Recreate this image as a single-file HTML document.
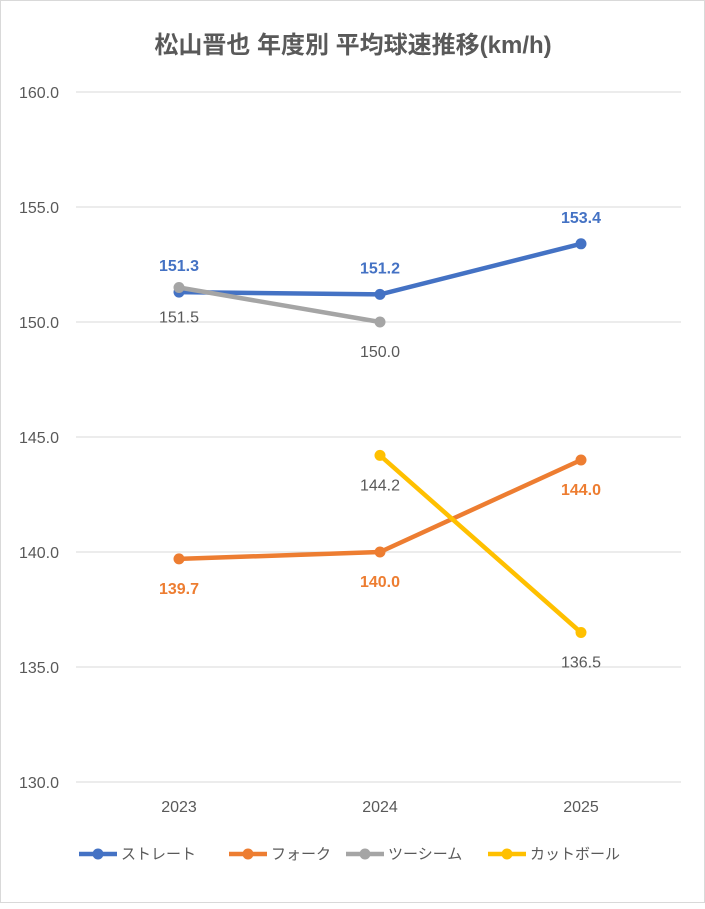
<!DOCTYPE html>
<html><head><meta charset="utf-8"><style>
body{margin:0;background:#fff;}
#c{position:relative;width:705px;height:903px;border:1px solid #d9d9d9;box-sizing:border-box;}
text{font-family:"Liberation Sans","Noto Sans CJK JP",sans-serif;}
</style></head><body>
<div id="c">
<svg id="s" width="705" height="903" xmlns="http://www.w3.org/2000/svg">
<text x="352" y="52" text-anchor="middle" font-size="24" font-weight="bold" fill="#595959">松山晋也 年度別 平均球速推移(km/h)</text>
<g id="grid"></g><g id="series"></g><g id="legend"></g>
</svg></div>
<script>
const categories=["2023","2024","2025"];
const yTicks=[130,135,140,145,150,155,160];
const seriesNames=["ストレート","フォーク","ツーシーム","カットボール"];
const straight=[151.3,151.2,153.4];
const fork=[139.7,140.0,144.0];
const twoSeam=[151.5,150.0,null];
const cutter=[null,144.2,136.5];
const colors=["#4472c4","#ed7d31","#a5a5a5","#ffc000"];
const labelColors=["#4472c4","#ed7d31","#595959","#595959"];
const labelPos=[[-1,-1,-1],[1,1,1],[1,1,1],[1,1,1]];
const NS="http://www.w3.org/2000/svg";
const yMin=130,yMax=160,yTop=91,yBot=781;
function y(v){return yBot-(v-yMin)/(yMax-yMin)*(yBot-yTop);}
function x(i){return 178+i*201;}
function mk(t,a,p){const e=document.createElementNS(NS,t);for(const k in a)e.setAttribute(k,a[k]);p.appendChild(e);return e;}
const grid=document.getElementById('grid');
yTicks.forEach(v=>{
 const l=mk('line',{x1:75,x2:680,y1:y(v),y2:y(v),stroke:'#d9d9d9','stroke-width':1},grid);
 
 
 const t=mk('text',{x:58,y:y(v)+6,'text-anchor':'end','font-size':16,fill:'#595959'},grid);
 t.textContent=v.toFixed(1);
 
 
});
categories.forEach((c,i)=>{
 const t=mk('text',{x:x(i),y:811,'text-anchor':'middle','font-size':16,fill:'#595959'},grid);
 t.textContent=c;
 
 
});
const all=[straight,fork,twoSeam,cutter];
const sg=document.getElementById('series');
all.forEach((d,s)=>{
 const g=mk('g',{},sg);
 
 
 let pts=[];d.forEach((v,i)=>{if(v!=null)pts.push(x(i)+','+y(v));});
 const pl=mk('polyline',{points:pts.join(' '),fill:'none',stroke:colors[s],'stroke-width':4.5,'stroke-linejoin':'round','stroke-linecap':'round'},g);
 
 
 d.forEach((v,i)=>{if(v==null)return;
  const c=mk('circle',{cx:x(i),cy:y(v),r:5.5,fill:colors[s]},g);
  
  
  const t=mk('text',{x:x(i),y:y(v)+(labelPos[s][i]<0?-21:35),'text-anchor':'middle','font-size':16,fill:labelColors[s],'font-weight':(s<2?'bold':'normal')},g);
  t.textContent=v.toFixed(1);
  
  
 });
});
const lg=document.getElementById('legend');
const lx=[78,228,345,487];
seriesNames.forEach((n,s)=>{
 const g=mk('g',{},lg);
 
 
 mk('line',{x1:lx[s],x2:lx[s]+38,y1:853,y2:853,stroke:colors[s],'stroke-width':4.5},g);
 mk('circle',{cx:lx[s]+19,cy:853,r:5.5,fill:colors[s]},g);
 const t=mk('text',{x:lx[s]+42,y:858,'font-size':15,fill:'#595959'},g);
 t.textContent=n;
});
</script>
</body></html>
